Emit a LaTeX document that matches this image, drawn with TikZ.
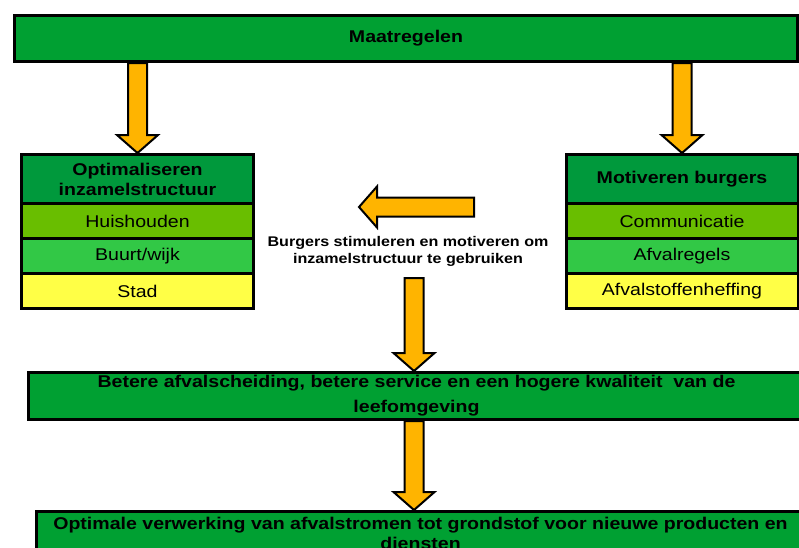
\documentclass[tikz,border=0pt]{standalone}
\usepackage{fontspec}
\setmainfont{Liberation Sans}[FakeStretch=1.15]
\usetikzlibrary{positioning,calc}

\definecolor{boxgreen}{RGB}{0,160,50}
\definecolor{headgreen}{RGB}{0,153,60}
\definecolor{rowa}{RGB}{105,190,0}
\definecolor{rowb}{RGB}{50,200,70}
\definecolor{rowc}{RGB}{255,255,70}
\definecolor{arrowfill}{RGB}{255,180,0}

\tikzset{
  bar/.style={draw, line width=3pt, fill=boxgreen, font=\fontsize{17}{22}\selectfont\bfseries, align=center, inner sep=0pt},
  cell/.style={draw, line width=3pt, minimum width=232, minimum height=35, inner sep=0pt},
  head/.style={cell, fill=headgreen, font=\fontsize{17}{20}\selectfont\bfseries, minimum height=49, align=center},
  block arrow/.style={draw=black, fill=arrowfill, line width=2pt, line join=miter}
}

\newcommand{\blockarrow}[2]{%
  \draw [block arrow] let \p1=(#1), \p2=(#2),
    \n1={atan2(\y2-\y1,\x2-\x1)}, \n2={veclen(\x2-\x1,\y2-\y1)} in
    [shift={(\p1)}, rotate=\n1]
    (0,-9.5) -- (\n2-18,-9.5) -- (\n2-18,-20.5) -- (\n2,0)
    -- (\n2-18,20.5) -- (\n2-18,9.5) -- (0,9.5) -- cycle;
}

\begin{document}
\begin{tikzpicture}[x=1pt, y=1pt, font=\fontsize{17}{22}\selectfont]
\clip (0,0) rectangle (799,-547);

\node [bar, minimum width=783, minimum height=46] (maat) at (406,-38.5) {Maatregelen};

\node [head] (opt-0) at (137.5,-179) {Optimaliseren\\inzamelstructuur};
\foreach \c/\t [count=\i] in {rowa/Huishouden, rowb/{Buurt/wijk}, rowc/Stad}
  \node [cell, fill=\c] (opt-\i) at (137.5,{-186-35*\i}) {\t};

\node [head] (mot-0) at (682,-179) {Motiveren burgers};
\foreach \c/\t [count=\i] in {rowa/Communicatie, rowb/Afvalregels, rowc/Afvalstoffenheffing}
  \node [cell, fill=\c] (mot-\i) at (682,{-186-35*\i}) {\t};

\node [font=\bfseries\fontsize{14}{17}\selectfont, align=center] (stim)
  at (408,-251) {Burgers stimuleren en motiveren om\\inzamelstructuur te gebruiken};
\coordinate (stim-tail) at (474,-207);
\coordinate (stim-tip) at (359,-207);
\coordinate (mid) at (414,-278);

\node [bar, minimum width=776, minimum height=47] (beter) at (416.5,-396)
  {Betere afvalscheiding, betere service en een hogere kwaliteit\ \ van de\\[3pt]leefomgeving};
\node [bar, minimum width=768, minimum height=43] (optim) at (420.5,-533)
  {Optimale verwerking van afvalstromen tot grondstof voor nieuwe producten en\\[-2pt]diensten};

\blockarrow{maat.south -| opt-0}{opt-0.north}
\blockarrow{maat.south -| mot-0}{mot-0.north}
\blockarrow{stim-tail}{stim-tip}
\blockarrow{mid}{beter.north -| mid}
\blockarrow{beter.south -| mid}{optim.north -| mid}

\end{tikzpicture}
\end{document}
